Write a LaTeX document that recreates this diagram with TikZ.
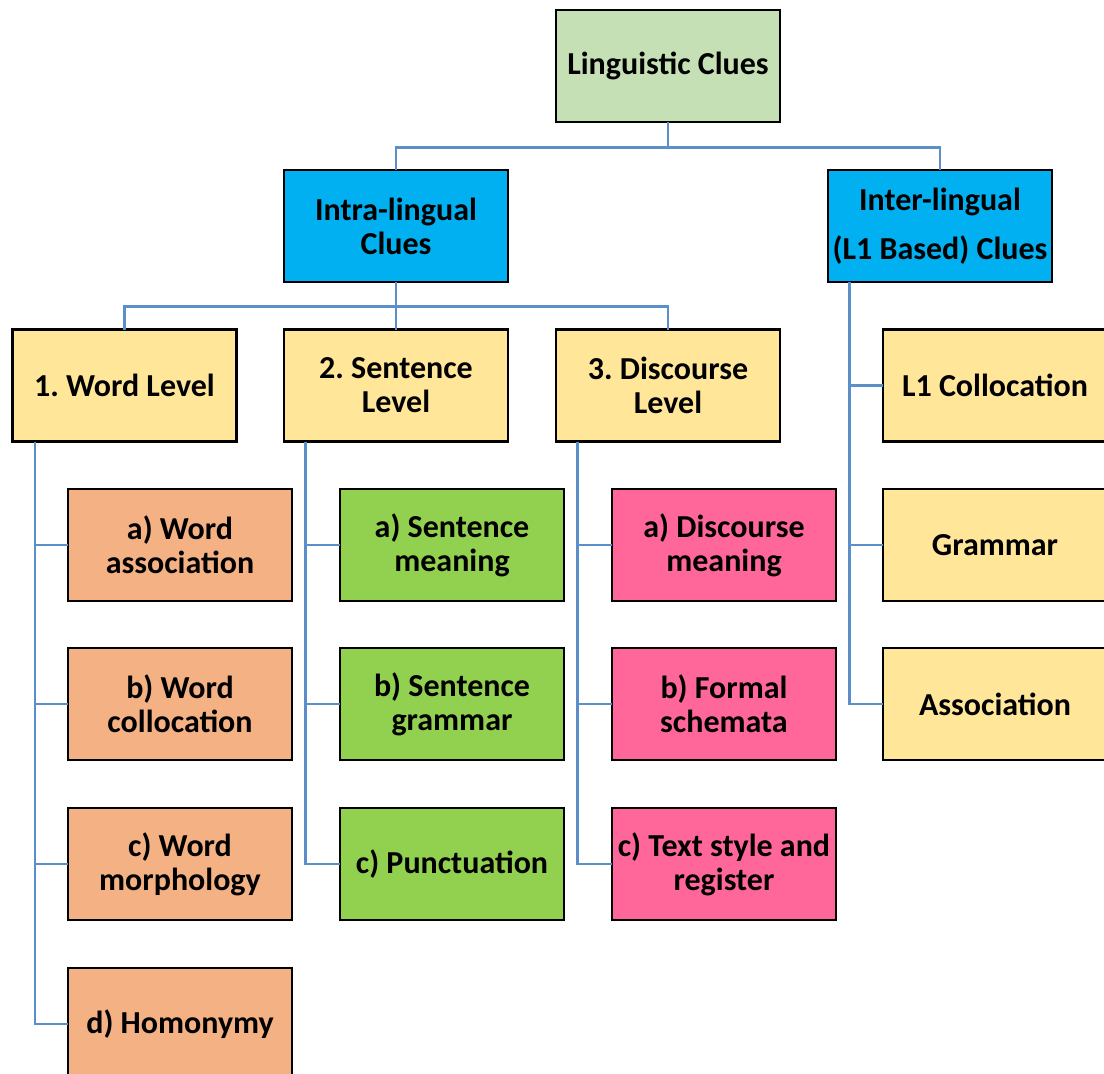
\documentclass[tikz,border=0pt]{standalone}
\usepackage{fontspec}
\setmainfont{Carlito}
\frenchspacing
\definecolor{topgreen}{HTML}{C5E0B4}
\definecolor{cluesblue}{HTML}{00B0F0}
\definecolor{levelyellow}{HTML}{FFE699}
\definecolor{wordorange}{HTML}{F4B183}
\definecolor{sentgreen}{HTML}{92D050}
\definecolor{discpink}{HTML}{FF6699}
\definecolor{linkblue}{HTML}{5B8FC9}
\tikzset{
  box/.style={draw=black, line width=2.8pt, minimum width=224pt, minimum height=112pt,
    inner sep=0pt, align=center, font=\fontsize{32}{34}\selectfont\bfseries},
  link/.style={draw=linkblue, line width=2.6pt},
}
\begin{document}
\begin{tikzpicture}[x=1pt, y=-1pt]
\useasboundingbox (0,0) rectangle (1104,1074);
\clip (0,0) rectangle (1104,1074);
\fill[white] (0,0) rectangle (1104,1074);

% top levels
\node[box, fill=topgreen] (lc) at (668,66) {Linguistic Clues};
\node[box, fill=cluesblue] (intra) at (396,226) {Intra-lingual\\Clues};
\node[box, fill=cluesblue, font=\fontsize{32}{49}\selectfont\bfseries] (inter) at (940,226) {Inter-lingual\\(L1 Based) Clues};

% intra-lingual levels
\node[box, fill=levelyellow] (word) at (124.5,385.5) {1. Word Level};
\node[box, fill=levelyellow] (sent) at (396,385.5) {2. Sentence\\Level};
\node[box, fill=levelyellow] (disc) at (668,385.5) {3. Discourse\\Level};

% inter-lingual items
\node[box, fill=levelyellow] (lcol) at (995,385.5) {L1 Collocation};
\node[box, fill=levelyellow] (lgram) at (995,545) {Grammar};
\node[box, fill=levelyellow] (lass) at (995,704) {Association};

% word level items
\node[box, fill=wordorange] (wa) at (180,545) {a) Word\\association};
\node[box, fill=wordorange] (wb) at (180,704) {b) Word\\collocation};
\node[box, fill=wordorange] (wc) at (180,864) {c) Word\\morphology};
\node[box, fill=wordorange] (wd) at (180,1024) {d) Homonymy};

% sentence level items
\node[box, fill=sentgreen] (sa) at (452,545) {a) Sentence\\meaning};
\node[box, fill=sentgreen] (sb) at (452,704) {b) Sentence\\grammar};
\node[box, fill=sentgreen] (sc) at (452,864) {c) Punctuation};

% discourse level items
\node[box, fill=discpink] (da) at (724,545) {a) Discourse\\meaning};
\node[box, fill=discpink] (db) at (724,704) {b) Formal\\schemata};
\node[box, fill=discpink] (dc) at (724,864) {c) Text style and\\register};

% connectors: elbow lines from each parent to its children
\draw[link] ([yshift=1.4pt]lc.south) -- ++(0,25.4) -| ([yshift=-1.4pt]intra.north);
\draw[link] ([yshift=1.4pt]lc.south) -- ++(0,25.4) -| ([yshift=-1.4pt]inter.north);
\draw[link] ([yshift=1.4pt]intra.south) -- ++(0,24.4) -| ([yshift=-1.4pt]word.north);
\draw[link] ([yshift=1.4pt]intra.south) -- ++(0,24.4) -| ([yshift=-1.4pt]sent.north);
\draw[link] ([yshift=1.4pt]intra.south) -- ++(0,24.4) -| ([yshift=-1.4pt]disc.north);
\foreach \c in {wa,wb,wc,wd}
  \draw[link] ([xshift=24pt,yshift=1.4pt]word.south west) |- ([xshift=1.4pt]\c.west);
\foreach \c in {sa,sb,sc}
  \draw[link] ([xshift=23pt,yshift=1.4pt]sent.south west) |- ([xshift=1.4pt]\c.west);
\foreach \c in {da,db,dc}
  \draw[link] ([xshift=23pt,yshift=1.4pt]disc.south west) |- ([xshift=1.4pt]\c.west);
\foreach \c in {lcol,lgram,lass}
  \draw[link] ([xshift=23pt,yshift=1.4pt]inter.south west) |- ([xshift=1.4pt]\c.west);
\end{tikzpicture}
\end{document}
